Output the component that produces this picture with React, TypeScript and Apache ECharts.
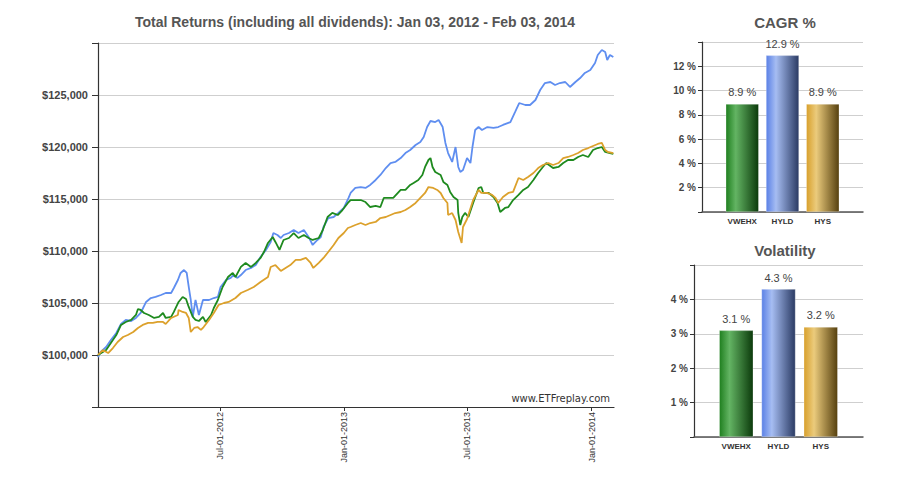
import React, { useEffect, useRef } from "react";
import * as echarts from "echarts";

// ---------- Data ----------
const startDate = "2012-01-03";
const endDate = "2014-02-03";
const tickDates = ["2012-07-01", "2013-01-01", "2013-07-01", "2014-01-01"];
const yTickMin = 95000;
const yTickMax = 130000;

// days since Jan 03, 2012
const hyldDays = [0, 4, 12, 19, 27, 34, 41, 49, 56, 63, 71, 78, 85, 93, 100, 108, 112, 118, 122, 127, 131, 134, 137, 140, 144, 149, 155, 164, 171, 177, 181, 189, 196, 200, 206, 211, 218, 226, 233, 240, 248, 255, 259, 265, 270, 274, 282, 289, 296, 304, 311, 317, 324, 329, 333, 340, 348, 355, 363, 370, 373, 380, 388, 395, 402, 410, 417, 425, 432, 439, 447, 454, 461, 469, 476, 481, 486, 491, 498, 503, 509, 513, 517, 523, 528, 532, 535, 539, 545, 550, 553, 557, 562, 567, 575, 584, 591, 598, 609, 616, 622, 631, 638, 646, 653, 660, 668, 675, 682, 690, 697, 705, 712, 719, 727, 734, 738, 744, 749, 752, 756, 761];
const hyldValues = [99800, 100290, 100770, 101440, 102120, 102980, 103370, 103270, 103560, 104040, 105100, 105480, 105580, 105770, 105960, 105960, 106440, 107210, 107890, 108170, 107890, 106540, 105290, 103660, 105290, 103850, 105290, 105290, 105480, 105580, 106540, 107210, 107410, 107690, 107410, 107690, 108170, 108370, 108660, 109420, 110100, 110870, 111730, 111540, 111250, 111540, 111730, 112020, 111730, 112020, 111350, 110580, 111060, 111350, 112310, 113170, 113270, 113660, 114140, 115100, 115580, 116060, 116150, 116060, 116350, 116830, 117310, 117980, 118460, 118560, 118940, 119420, 119710, 120190, 120480, 120960, 121920, 122500, 122400, 122600, 121920, 120390, 119420, 118560, 120000, 118080, 117600, 117790, 118940, 118460, 120000, 121640, 121920, 121640, 121920, 121830, 121920, 122120, 122400, 123370, 124230, 124040, 124040, 124520, 125480, 126150, 126250, 125960, 126150, 126250, 125770, 126250, 126630, 127120, 127400, 128080, 128850, 129330, 129140, 128370, 128850, 128650];

const vwehxDays = [0, 12, 27, 34, 41, 49, 56, 59, 63, 68, 75, 83, 90, 96, 100, 108, 112, 119, 125, 130, 134, 140, 144, 149, 155, 159, 167, 171, 177, 184, 192, 199, 203, 211, 218, 226, 233, 240, 245, 251, 258, 262, 268, 274, 282, 289, 296, 304, 311, 317, 326, 332, 339, 346, 354, 361, 369, 373, 380, 388, 395, 402, 410, 417, 422, 429, 436, 447, 454, 461, 466, 473, 479, 483, 488, 491, 494, 498, 506, 510, 516, 520, 525, 531, 532, 535, 538, 542, 547, 554, 562, 566, 569, 577, 584, 590, 594, 601, 606, 613, 621, 628, 635, 643, 650, 657, 662, 672, 680, 687, 694, 702, 709, 716, 724, 731, 738, 744, 749, 756, 761];
const vwehxValues = [100000, 100480, 101920, 102890, 103170, 103370, 103850, 104420, 104330, 104040, 103850, 103560, 103660, 104040, 103560, 103660, 104140, 105100, 105580, 105390, 104620, 103660, 103370, 103270, 103660, 103170, 103850, 104520, 105290, 106540, 107500, 107890, 107500, 108470, 108850, 108470, 108850, 109330, 109900, 110770, 111350, 110870, 110100, 111060, 111250, 111730, 111250, 111540, 111250, 111060, 111250, 112020, 113270, 113660, 113460, 113940, 114620, 114900, 114900, 114900, 114710, 114230, 114330, 114230, 115100, 115100, 115100, 115870, 115870, 116350, 116540, 116830, 117310, 118080, 118750, 118940, 118080, 117600, 117310, 116640, 116350, 115680, 115190, 114900, 113660, 112500, 113270, 113660, 113270, 114620, 116060, 116150, 115580, 115580, 115190, 114620, 113750, 114140, 114230, 114900, 115390, 115870, 116150, 116830, 117500, 118080, 118460, 117980, 118080, 118460, 118750, 118750, 119040, 119230, 119040, 119710, 119900, 120000, 119520, 119420, 119330];

const hysDays = [0, 7, 15, 22, 29, 37, 44, 52, 59, 66, 74, 81, 88, 96, 100, 108, 118, 119, 125, 130, 134, 137, 142, 147, 152, 156, 164, 171, 178, 186, 193, 203, 211, 221, 230, 240, 251, 255, 262, 270, 277, 284, 292, 299, 307, 314, 318, 326, 333, 340, 348, 355, 363, 369, 373, 380, 388, 395, 402, 410, 417, 425, 432, 439, 447, 454, 461, 469, 476, 483, 488, 495, 501, 506, 510, 516, 517, 523, 528, 532, 537, 539, 545, 554, 562, 566, 574, 582, 587, 591, 598, 606, 613, 621, 628, 635, 643, 650, 657, 665, 672, 680, 687, 694, 702, 709, 716, 724, 731, 738, 744, 749, 753, 761];
const hysValues = [100000, 100480, 100190, 100670, 101250, 101730, 101920, 102210, 102600, 102890, 103080, 103080, 103180, 103180, 102980, 103560, 103850, 104330, 104140, 104040, 103560, 102210, 102600, 102690, 102410, 102690, 103370, 104040, 104810, 105000, 105100, 105480, 105960, 106250, 106540, 107020, 107500, 108460, 108650, 108080, 108370, 108650, 109140, 109140, 109330, 108850, 108370, 108850, 109330, 109900, 110580, 111250, 111730, 112210, 112310, 112500, 112690, 112500, 112690, 112790, 113170, 113270, 113460, 113650, 113750, 113940, 114230, 114620, 115100, 115580, 116150, 116060, 115870, 115580, 115100, 114620, 113460, 113650, 112980, 111830, 110770, 112310, 113080, 114900, 115870, 115580, 115580, 115390, 115100, 114620, 115190, 115580, 115680, 117020, 116830, 117120, 117500, 117980, 118270, 118460, 118270, 118460, 118940, 119040, 119230, 119420, 119710, 119900, 120100, 120290, 120390, 119710, 119520, 119420];

const funds = ["VWEHX", "HYLD", "HYS"];
const cagrValues = [8.9, 12.9, 8.9];
const volatilityValues = [3.1, 4.3, 3.2];

// ---------- Helpers ----------
const DAY = 86400000;
const ts = (s: string) => {
  const [y, m, d] = s.split("-").map(Number);
  return Date.UTC(y, m - 1, d);
};
const START = ts(startDate);
const END = ts(endDate);
const MONTHS = ["Jan", "Feb", "Mar", "Apr", "May", "Jun", "Jul", "Aug", "Sep", "Oct", "Nov", "Dec"];
const fmtDate = (v: number) => {
  const d = new Date(v);
  const dd = String(d.getUTCDate()).padStart(2, "0");
  return `${MONTHS[d.getUTCMonth()]}-${dd}-${d.getUTCFullYear()}`;
};
const toSeries = (days: number[], vals: number[]) => days.map((d, i) => [START + d * DAY, vals[i]]);

const FONT = "'Liberation Sans', Arial, sans-serif";
const grad = (stops: string[]) =>
  new echarts.graphic.LinearGradient(0, 0, 1, 0, [
    { offset: 0, color: stops[0] },
    { offset: 0.3, color: stops[1] },
    { offset: 1, color: stops[2] },
  ]);
const barGradients = [
  ["#1f7f1f", "#63b463", "#0b3a0b"],
  ["#5a80e6", "#a6bdf2", "#2a3a63"],
  ["#d8a02c", "#ebcb7c", "#56400f"],
];
const lineColors = { HYLD: "#5f8ef0", VWEHX: "#1e8a1e", HYS: "#dca12c" };

export default function App() {
  const ref = useRef<HTMLDivElement>(null);
  useEffect(() => {
    if (!ref.current) return;
    const chart = echarts.init(ref.current, undefined, { renderer: "svg" });

    const barAxisCommon = (gridIndex: number) => ({
      type: "value" as const,
      gridIndex,
      min: -1,
      max: 3,
      splitLine: { show: false },
      axisLine: { show: true, onZero: false, lineStyle: { color: "#555", width: 1.5 } },
      axisTick: { show: false },
      axisLabel: {
        customValues: [0, 1, 2],
        formatter: (v: number) => funds[v] ?? "",
        fontFamily: FONT,
        fontSize: 8,
        fontWeight: "bold" as const,
        color: "#333",
        margin: 5,
      },
    });

    const barYAxis = (gridIndex: number, max: number, interval: number) => ({
      type: "value" as const,
      gridIndex,
      min: 0,
      max,
      interval,
      axisLine: { show: true, onZero: false, lineStyle: { color: "#333", width: 1.2 } },
      axisTick: { show: true, length: 4, lineStyle: { color: "#333" } },
      splitLine: { show: true, lineStyle: { color: "#cfcfcf" } },
      axisLabel: {
        formatter: (v: number) => (v === 0 || v === max ? "" : `${v} %`),
        fontFamily: FONT,
        fontSize: 10,
        fontWeight: "bold" as const,
        color: "#444",
        margin: 6,
      },
    });

    const barSeries = (idx: number, vals: number[], width: number) => ({
      type: "bar" as const,
      xAxisIndex: idx,
      yAxisIndex: idx,
      barWidth: width,
      data: vals.map((v, i) => ({
        value: [i, v],
        itemStyle: { color: grad(barGradients[i]), borderColor: "rgba(255,255,255,0.6)", borderWidth: 0.5 },
      })),
      label: {
        show: true,
        position: "top" as const,
        distance: 6,
        formatter: (p: any) => `${p.value[1].toFixed(1)} %`,
        fontFamily: FONT,
        fontSize: 11,
        color: "#444",
      },
    });

    const lineSeries = (name: string, days: number[], vals: number[], color: string) => ({
      name,
      type: "line" as const,
      xAxisIndex: 0,
      yAxisIndex: 0,
      showSymbol: false,
      data: toSeries(days, vals),
      lineStyle: { color, width: 1.8 },
      itemStyle: { color },
    });

    chart.setOption({
      animation: false,
      backgroundColor: "#ffffff",
      graphic: [
        {
          type: "text",
          x: 355,
          y: 22,
          style: {
            text: `Total Returns (including all dividends): Jan 03, 2012 - Feb 03, 2014`,
            font: `bold 14px ${FONT}`,
            fill: "#555",
            textAlign: "center",
            textVerticalAlign: "middle",
          },
        },
        {
          type: "text",
          x: 785,
          y: 22,
          style: { text: "CAGR %", font: `bold 15px ${FONT}`, fill: "#555", textAlign: "center", textVerticalAlign: "middle" },
        },
        {
          type: "text",
          x: 785,
          y: 250,
          style: { text: "Volatility", font: `bold 15px ${FONT}`, fill: "#555", textAlign: "center", textVerticalAlign: "middle" },
        },
        {
          type: "text",
          x: 610,
          y: 398,
          style: { text: "www.ETFreplay.com", font: `10px 'DejaVu Sans', Verdana, sans-serif`, fill: "#333", textAlign: "right", textVerticalAlign: "middle" },
        },
      ],
      grid: [
        { left: 98, top: 43, width: 516, height: 364 },
        { left: 702, top: 42, width: 161, height: 170 },
        { left: 694, top: 265, width: 169, height: 172 },
      ],
      xAxis: [
        {
          type: "value",
          gridIndex: 0,
          min: START,
          max: END,
          splitLine: { show: false },
          axisLine: { show: true, onZero: false, lineStyle: { color: "#333", width: 1.2 } },
          axisTick: { show: true, customValues: tickDates.map(ts), length: 4, lineStyle: { color: "#333" } },
          axisLabel: {
            customValues: tickDates.map(ts),
            formatter: (v: number) => fmtDate(v),
            rotate: 90,
            fontFamily: FONT,
            fontSize: 9,
            color: "#333",
            margin: 5,
          },
        },
        barAxisCommon(1),
        barAxisCommon(2),
      ],
      yAxis: [
        {
          type: "value",
          gridIndex: 0,
          min: yTickMin,
          max: yTickMax,
          interval: 5000,
          axisLine: { show: true, onZero: false, lineStyle: { color: "#333", width: 1.2 } },
          axisTick: { show: true, length: 6, lineStyle: { color: "#333" } },
          splitLine: { show: true, lineStyle: { color: "#cfcfcf", width: 1 } },
          axisLabel: {
            formatter: (v: number) => (v === yTickMin || v === yTickMax ? "" : "$" + v.toLocaleString("en-US")),
            fontFamily: FONT,
            fontSize: 11,
            fontWeight: "bold",
            color: "#444",
            margin: 10,
          },
        },
        barYAxis(1, 14, 2),
        barYAxis(2, 5, 1),
      ],
      series: [
        lineSeries("HYLD", hyldDays, hyldValues, lineColors.HYLD),
        lineSeries("VWEHX", vwehxDays, vwehxValues, lineColors.VWEHX),
        lineSeries("HYS", hysDays, hysValues, lineColors.HYS),
        barSeries(1, cagrValues, 33),
        barSeries(2, volatilityValues, 34),
      ],
    });
    return () => chart.dispose();
  }, []);
  return <div ref={ref} style={{ position: "absolute", left: 0, top: 0, width: 900, height: 500 }} />;
}
